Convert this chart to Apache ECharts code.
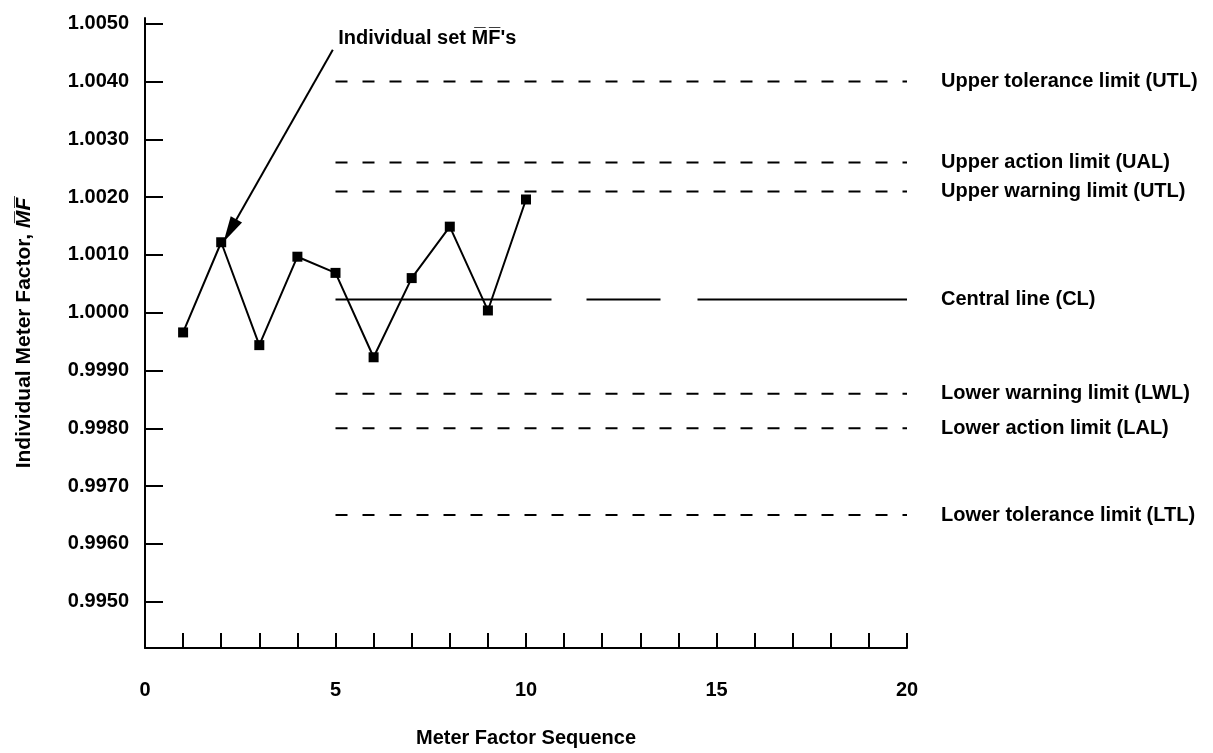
<!DOCTYPE html>
<html><head><meta charset="utf-8">
<script src="https://cdn.jsdelivr.net/npm/echarts@6/dist/echarts.min.js"></script>
<style>html,body{margin:0;padding:0;background:#fff}#c{width:1213px;height:753px}</style>
</head><body><div id="c"></div>
<script>
// ---- data ----
const sequence = [1, 2, 3, 4, 5, 6, 7, 8, 9, 10];
const meterFactors = [0.99966, 1.00122, 0.99944, 1.00097, 1.00069, 0.99923, 1.00060, 1.00149, 1.00004, 1.00196];
const limitNames = ['Upper tolerance limit (UTL)', 'Upper action limit (UAL)', 'Upper warning limit (UTL)', 'Central line (CL)', 'Lower warning limit (LWL)', 'Lower action limit (LAL)', 'Lower tolerance limit (LTL)'];
const limitValues = [1.0040, 1.0026, 1.0021, 1.00023, 0.9986, 0.9980, 0.9965];
const limitRange = [5, 20];
const yTickValues = [0.9950, 0.9960, 0.9970, 0.9980, 0.9990, 1.0000, 1.0010, 1.0020, 1.0030, 1.0040, 1.0050];
const xLabelValues = [0, 5, 10, 15, 20];
const xTickValues = [1, 2, 3, 4, 5, 6, 7, 8, 9, 10, 11, 12, 13, 14, 15, 16, 17, 18, 19, 20];
const annotationText = "Individual set M\u0305F\u0305's";
const annotationPos = [5.07, 1.00475];
const arrowFrom = [4.93, 1.00455];
const arrowTo = [2.23, 1.00142];
const xTitle = 'Meter Factor Sequence';
const yTitle = 'Individual Meter Factor, ';
const yTitleSymbol = 'M\u0305F\u0305';

// ---- chart ----
const FONT = "'Liberation Sans', Arial, Helvetica, sans-serif";
const INK = '#000';
const W = 'bold';
const chart = echarts.init(document.getElementById('c'), null, {renderer: 'canvas'});

const limitSeries = limitNames.map((name, i) => {
  const isCL = name.indexOf('Central') === 0;
  return {
    type: 'line', name: name,
    data: limitRange.map(x => [x, limitValues[i]]),
    symbol: 'none', silent: true,
    lineStyle: {color: INK, width: 2, type: isCL ? [216, 35, 74, 37, 240] : [12, 15]},
    endLabel: {show: true, formatter: name, distance: 34, color: INK, fontFamily: FONT, fontWeight: W, fontSize: 20},
    z: 2
  };
});

chart.setOption({
  animation: false,
  backgroundColor: '#fff',
  grid: {left: 145, right: 306, top: 18, bottom: 75, containLabel: false},
  xAxis: {
    type: 'value', min: 0, max: 20, interval: 1,
    axisLine: {show: true, onZero: false, lineStyle: {color: INK, width: 2}},
    axisTick: {show: true, inside: true, length: 15, customValues: xTickValues, lineStyle: {color: INK, width: 2}},
    axisLabel: {show: true, customValues: xLabelValues, margin: 32, color: INK, fontFamily: FONT, fontWeight: W, fontSize: 20},
    splitLine: {show: false},
    name: xTitle, nameLocation: 'middle', nameGap: 80,
    nameTextStyle: {color: INK, fontFamily: FONT, fontWeight: W, fontSize: 20}
  },
  yAxis: {
    type: 'value', min: 0.9942, max: 1.0051,
    axisLine: {show: true, onZero: false, lineStyle: {color: INK, width: 2}},
    axisTick: {show: true, inside: true, length: 18, customValues: yTickValues, lineStyle: {color: INK, width: 2}},
    axisLabel: {show: true, customValues: yTickValues, margin: 16, color: INK, fontFamily: FONT, fontWeight: W, fontSize: 20,
      formatter: v => v.toFixed(4)},
    splitLine: {show: false},
    name: '{a|' + yTitle + '}{b|' + yTitleSymbol + '}', nameLocation: 'middle', nameGap: 110,
    nameTextStyle: {color: INK, fontFamily: FONT, fontWeight: W, fontSize: 21,
      rich: {a: {fontFamily: FONT, fontWeight: W, fontSize: 21, color: INK},
             b: {fontFamily: FONT, fontWeight: W, fontSize: 21, fontStyle: 'italic', color: INK}}}
  },
  series: limitSeries.concat([
    {
      type: 'line', name: 'Individual set MF',
      data: sequence.map((x, i) => [x, meterFactors[i]]),
      symbol: 'rect', symbolSize: 10,
      lineStyle: {color: INK, width: 2},
      itemStyle: {color: INK},
      z: 5,
      markLine: {
        silent: true, symbol: ['none', 'triangle'], symbolSize: 20,
        lineStyle: {color: INK, width: 2, type: 'solid'},
        itemStyle: {color: INK},
        label: {show: false},
        data: [[{coord: arrowFrom, symbol: 'none'}, {coord: arrowTo, symbol: 'triangle', symbolSize: [13, 26]}]]
      }
    },
    {
      type: 'scatter', name: 'annotation',
      data: [annotationPos], symbolSize: 0, silent: true,
      itemStyle: {opacity: 1, color: INK},
      label: {show: true, position: 'right', distance: 0, formatter: annotationText, opacity: 1,
        color: INK, fontFamily: FONT, fontWeight: W, fontSize: 20}
    }
  ])
});
</script></body></html>
